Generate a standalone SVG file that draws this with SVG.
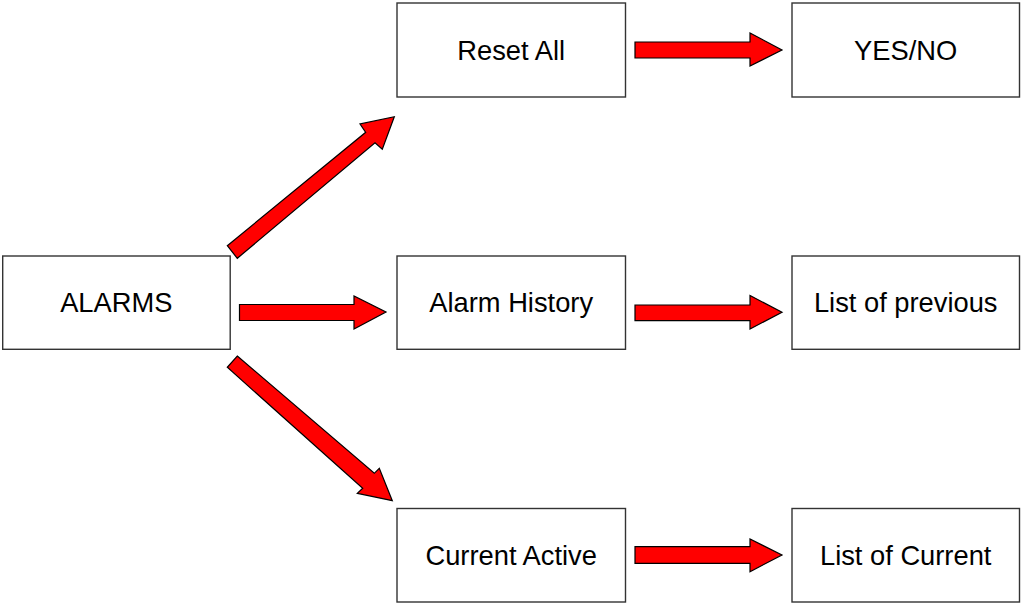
<svg xmlns="http://www.w3.org/2000/svg" width="1024" height="604" viewBox="0 0 1024 604">
<style>
.box{fill:#fff;stroke:#333;stroke-width:1.4}
.lbl{font-family:"Liberation Sans",Arial,sans-serif;font-size:27.3px;fill:#000;text-anchor:middle}
.arr{fill:#ff0000;stroke:#000;stroke-width:1.2;stroke-linejoin:miter}
</style>
<rect width="1024" height="604" fill="#fff"/>
<g id="connectors">
<polygon class="arr" points="635,42 750,42 750,33 782,50 750,66 750,58 635,58"/>
<polygon class="arr" points="239.5,304.5 354,304.5 354,296 386,312 354,329 354,320.5 239.5,320.5"/>
<polygon class="arr" points="635,305 750,305 750,295.5 782,312.3 750,329 750,320.7 635,320.7"/>
<polygon class="arr" points="635,546.7 750,546.7 750,539 782,555 750,571.7 750,563.3 635,563.3"/>
<polygon class="arr" points="227.3,245.7 365.7,132.3 360,124 394.3,116.7 382.3,149.3 375,142.7 237.3,258.3"/>
<polygon class="arr" points="237.3,356 374.3,473.3 379.3,468.3 392.3,500.7 357.3,493.3 362.7,488.3 227.3,367.3"/>
</g>
<g id="alarms"><rect class="box" x="2.7" y="256" width="227.5" height="93.3"/><text class="lbl" x="116.3" y="312.3">ALARMS</text></g>
<g id="reset-all"><rect class="box" x="397" y="3" width="228.5" height="94"/><text class="lbl" x="511.2" y="59.5">Reset All</text></g>
<g id="yes-no"><rect class="box" x="792" y="3" width="227.5" height="94"/><text class="lbl" x="905.7" y="59.5">YES/NO</text></g>
<g id="alarm-history"><rect class="box" x="397" y="256" width="228.5" height="93.3"/><text class="lbl" x="511.2" y="312">Alarm History</text></g>
<g id="list-previous"><rect class="box" x="792" y="256" width="227.5" height="93.3"/><text class="lbl" x="905.7" y="312">List of previous</text></g>
<g id="current-active"><rect class="box" x="397" y="508.5" width="228.5" height="93.5"/><text class="lbl" x="511.2" y="565">Current Active</text></g>
<g id="list-current"><rect class="box" x="792" y="508.5" width="227.5" height="93.5"/><text class="lbl" x="905.7" y="565">List of Current</text></g>
</svg>
